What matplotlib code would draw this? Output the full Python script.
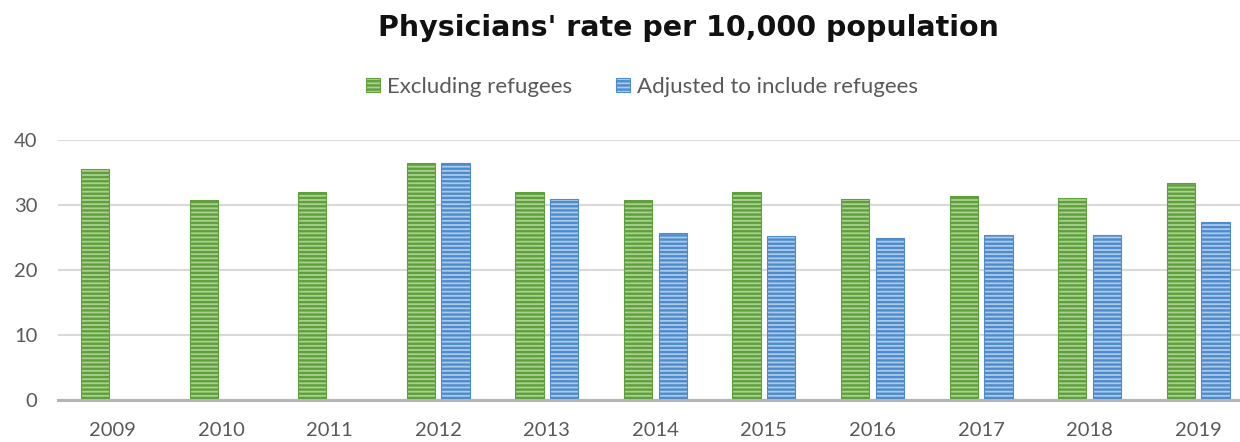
import matplotlib
matplotlib.use("Agg")
import matplotlib.pyplot as plt
import numpy as np

years = ["2009", "2010", "2011", "2012", "2013", "2014", "2015", "2016", "2017", "2018", "2019"]
excluding = [35.5, 30.8, 32.0, 36.4, 32.0, 30.8, 32.0, 30.9, 31.4, 31.1, 33.4]
adjusted = [np.nan, np.nan, np.nan, 36.4, 31.0, 25.7, 25.3, 24.9, 25.4, 25.4, 27.4]
series_names = ["Excluding refugees", "Adjusted to include refugees"]
yticks = [0, 10, 20, 30, 40]
title = "Physicians' rate per 10,000 population"

plt.rcParams["hatch.linewidth"] = 1.7

fig = plt.figure(figsize=(12.4, 4.42), dpi=100)
ax = fig.add_axes([58.2 / 1240, 42 / 442, (1252.5 - 58.2) / 1240, 260 / 442])

x = np.arange(len(years))
w = 0.26
off = 0.16
b1 = ax.bar(x - off, excluding, width=w, color="#a9d28e", edgecolor="#5f9f3d",
            hatch="----", linewidth=0.8, label=series_names[0], zorder=3)
b2 = ax.bar(x + off, adjusted, width=w, color="#a9cbec", edgecolor="#4f8bcb",
            hatch="----", linewidth=0.8, label=series_names[1], zorder=3)

ax.set_xlim(-0.5, 10.5)
ax.set_ylim(0, 40)
ax.set_yticks(yticks)
ax.set_xticks(x)
ax.set_xticklabels(years)
ax.yaxis.grid(True, color="#d9d9d9", linewidth=1.5, zorder=0)
ax.set_axisbelow(True)
for s in ["top", "right", "left"]:
    ax.spines[s].set_visible(False)
ax.spines["bottom"].set_color("#b4b4b4")
ax.spines["bottom"].set_linewidth(2.2)
ax.spines["bottom"].set_zorder(4)
ax.tick_params(axis="both", length=0, labelsize=14.5, labelcolor="#595959")
ax.tick_params(axis="y", pad=15)
ax.tick_params(axis="x", pad=16)
for lab in ax.get_xticklabels() + ax.get_yticklabels():
    lab.set_fontfamily(["Lato", "DejaVu Sans"])

fig.text(688.5 / 1240, (442 - 36) / 442, title, ha="center", va="baseline",
         fontsize=20.5, fontweight="bold", family=["DejaVu Sans"], color="#111111")

leg = fig.legend(handles=[b1, b2], labels=series_names, loc="center",
                 bbox_to_anchor=(642 / 1240, (442 - 87) / 442), ncol=2, frameon=False,
                 prop={"family": ["Lato", "DejaVu Sans"], "size": 16},
                 handlelength=0.62, handleheight=0.62, handletextpad=0.3,
                 columnspacing=2.0, borderpad=0, borderaxespad=0)
for t in leg.get_texts():
    t.set_color("#595959")

fig.savefig("out.png", dpi=100)
